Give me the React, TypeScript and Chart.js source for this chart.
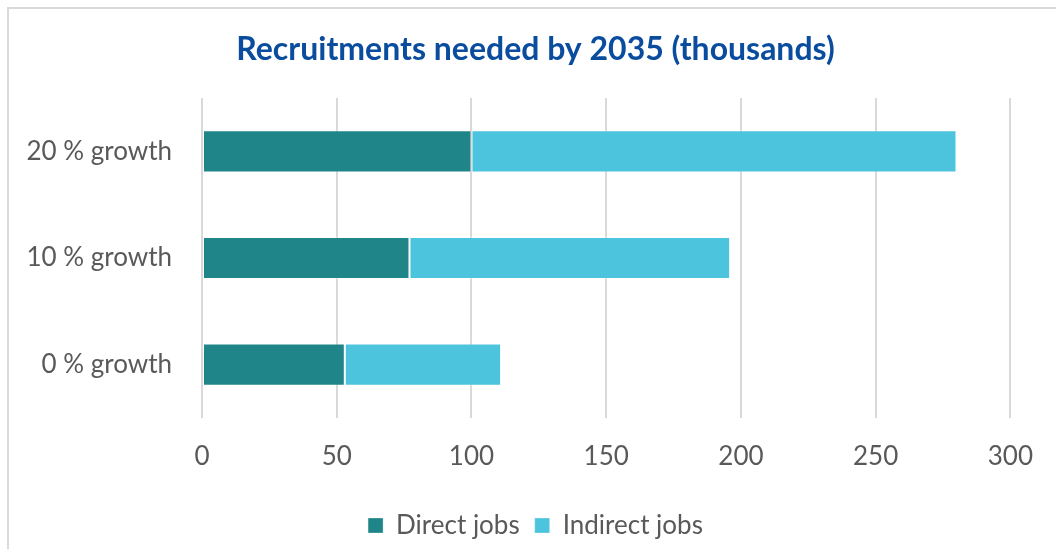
import React, { useEffect, useRef } from "react";
import { Chart, registerables } from "chart.js";

Chart.register(...registerables);

const categories = ["20 % growth", "10 % growth", "0 % growth"];
const directJobs = [100, 77, 53];
const indirectJobs = [180, 119, 58];
const seriesNames = ["Direct jobs", "Indirect jobs"];
const titleText = "Recruitments needed by 2035 (thousands)";

const FONT = "Lato, 'Open Sans', sans-serif";
const TEXT = "#595959";

export default function App() {
  const ref = useRef<HTMLCanvasElement | null>(null);

  useEffect(() => {
    if (!ref.current) return;
    const chart = new Chart(ref.current, {
      type: "bar",
      data: {
        labels: categories,
        datasets: [
          {
            label: seriesNames[0],
            data: directJobs,
            backgroundColor: "#1F8589",
            borderColor: "rgba(255,255,255,0.3)",
            borderWidth: 1,
            borderSkipped: false,
            categoryPercentage: 1,
            barPercentage: 0.395,
          },
          {
            label: seriesNames[1],
            data: indirectJobs,
            backgroundColor: "#4CC4DD",
            borderColor: "rgba(255,255,255,0.3)",
            borderWidth: 1,
            borderSkipped: false,
            categoryPercentage: 1,
            barPercentage: 0.395,
          },
        ],
      },
      options: {
        indexAxis: "y",
        responsive: false,
        animation: false,
        layout: { padding: { left: 56, right: 41, top: 0, bottom: 0.5 } },
        plugins: {
          title: {
            display: true,
            text: titleText,
            color: "#0A4D9E",
            font: { family: FONT, size: 32, weight: "bold", lineHeight: 1.2 },
            padding: { top: 30, bottom: 29.6 },
          },
          legend: {
            position: "bottom",
            labels: {
              color: TEXT,
              font: { family: FONT, size: 26 },
              boxWidth: 15,
              boxHeight: 15,
              padding: 15,
            },
          },
          tooltip: { enabled: false },
        },
        scales: {
          x: {
            stacked: true,
            min: 0,
            max: 300,
            ticks: {
              stepSize: 50,
              color: TEXT,
              font: { family: FONT, size: 26 },
              padding: 23,
            },
            grid: { color: "#D9D9D9", lineWidth: 2, drawTicks: false },
            border: { display: false },
            afterFit: (scale: any) => {
              scale.height = 79.5;
            },
          },
          y: {
            stacked: true,
            ticks: {
              color: TEXT,
              font: { family: FONT, size: 26 },
              padding: 30,
            },
            grid: { display: false, drawTicks: false },
            border: { display: false },
            afterFit: (scale: any) => {
              scale.width = 146;
              // let the category labels extend left of the (narrow) axis box
              scale._computeLabelArea = () => undefined;
            },
          },
        },
      },
    });
    return () => chart.destroy();
  }, []);

  return (
    <div
      style={{
        position: "fixed",
        left: 0,
        top: 0,
        width: 1056,
        height: 549,
        background: "#ffffff",
        overflow: "hidden",
      }}
    >
      <div
        style={{
          position: "absolute",
          left: 7,
          top: 7,
          width: 1049,
          height: 542,
          borderTop: "2px solid #D9D9D9",
          borderLeft: "2px solid #D9D9D9",
          boxSizing: "border-box",
        }}
      />
      <canvas
        ref={ref}
        width={1056}
        height={549}
        style={{ position: "absolute", left: 0, top: 0 }}
      />
    </div>
  );
}
